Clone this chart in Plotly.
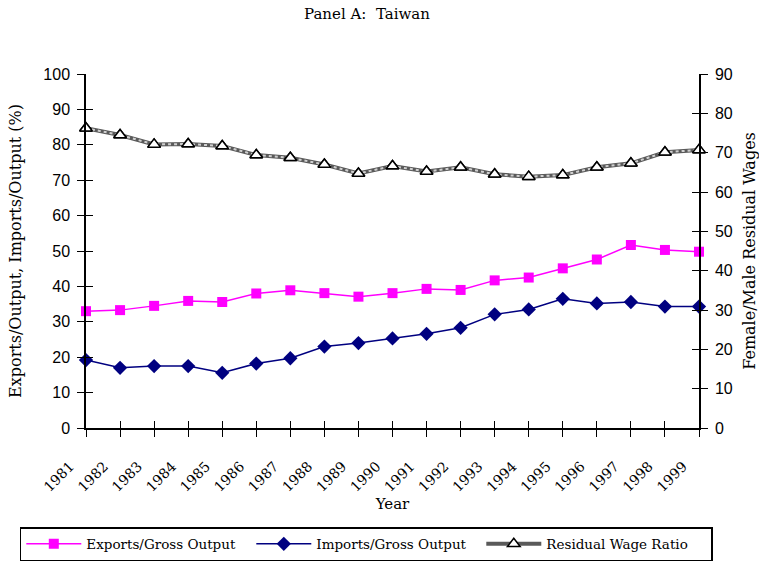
import plotly.graph_objects as go

years = list(range(1981, 2000))
year_labels = [str(y) for y in years]
exports = [33.0, 33.3, 34.5, 35.9, 35.6, 38.0, 38.9, 38.1, 37.1, 38.1,
           39.3, 39.0, 41.7, 42.5, 45.1, 47.6, 51.7, 50.3, 49.8]
imports = [19.2, 17.0, 17.5, 17.5, 15.6, 18.2, 19.7, 23.0, 24.0, 25.3,
           26.6, 28.3, 32.1, 33.5, 36.5, 35.2, 35.6, 34.3, 34.3]
wage_ratio = [76.2, 74.5, 72.1, 72.2, 71.7, 69.4, 68.7, 67.0, 64.7, 66.6,
              65.2, 66.3, 64.5, 63.9, 64.3, 66.3, 67.3, 70.1, 70.7]

SERIF = "DejaVu Serif"
SANS = "Liberation Sans"

fig = go.Figure()
fig.add_trace(go.Scatter(
    x=years, y=exports, name="Exports/Gross Output", mode="lines+markers",
    line=dict(color="#FF00FF", width=1.5),
    marker=dict(symbol="square", size=10, color="#FF00FF"),
    cliponaxis=False))
fig.add_trace(go.Scatter(
    x=years, y=imports, name="Imports/Gross Output", mode="lines+markers",
    line=dict(color="#000080", width=1.5),
    marker=dict(symbol="diamond", size=11, color="#000080"),
    cliponaxis=False))
fig.add_trace(go.Scatter(
    x=years, y=wage_ratio, name="Residual Wage Ratio", mode="lines+markers",
    yaxis="y2", line=dict(color="#5a5a5a", width=4),
    marker=dict(symbol="triangle-up", size=11, color="white",
                line=dict(color="black", width=1.5)),
    cliponaxis=False))
fig.add_trace(go.Scatter(
    x=years, y=wage_ratio, mode="lines", yaxis="y2", showlegend=False,
    line=dict(color="#d0d0d0", width=2, dash="dot"), hoverinfo="skip",
    cliponaxis=False))
fig.add_trace(go.Scatter(
    x=years, y=wage_ratio, mode="markers", yaxis="y2", showlegend=False,
    marker=dict(symbol="triangle-up", size=11, color="white",
                line=dict(color="black", width=1.5)),
    hoverinfo="skip", cliponaxis=False))
# empty traces on helper axes that draw the inner half of crossing ticks
fig.add_trace(go.Scatter(x=[None], y=[None], xaxis="x2", yaxis="y3",
                         showlegend=False, hoverinfo="skip"))
fig.add_trace(go.Scatter(x=[None], y=[None], xaxis="x2", yaxis="y4",
                         showlegend=False, hoverinfo="skip"))

common = dict(showgrid=False, zeroline=False, automargin=False)

fig.update_layout(
    width=759, height=565,
    # right margin comes from the right axis' automargin push
    margin=dict(l=86, r=0, t=74, b=137),
    paper_bgcolor="white", plot_bgcolor="white",
    font=dict(family=SERIF, size=14, color="black"),
    title=dict(text="Panel A:  Taiwan", x=0.4835, xanchor="center",
               y=0.975, yanchor="middle", font=dict(family=SERIF, size=15)),
    xaxis=dict(
        range=[1981, 1999], tickvals=years, ticktext=year_labels,
        tickangle=-45, ticks="outside", ticklen=7, tickcolor="black",
        showline=True, linecolor="black", linewidth=1.5,
        tickfont=dict(family=SERIF, size=14), ticklabelstandoff=16,
        ticklabelshift=-16,
        title=dict(text="Year", font=dict(size=15), standoff=2), **common),
    xaxis2=dict(
        range=[1981, 1999], tickvals=years, overlaying="x", anchor="y",
        side="bottom", ticks="inside", ticklen=7, tickcolor="black",
        showticklabels=False, showline=False, **common),
    yaxis=dict(
        range=[0, 100], dtick=10, ticks="outside", ticklen=7,
        tickcolor="black", showline=True, linecolor="black", linewidth=1.5,
        tickfont=dict(family=SANS, size=16), ticklabelstandoff=4,
        title=dict(text="Exports/Output, Imports/Output (%)",
                   font=dict(size=16), standoff=18), **common),
    yaxis2=dict(
        range=[0, 90], dtick=10, overlaying="y", side="right",
        ticks="outside", ticklen=7, tickcolor="black", showline=True,
        linecolor="black", linewidth=1.5,
        tickfont=dict(family=SANS, size=16), ticklabelstandoff=4,
        title=dict(text="Female/Male Residual Wages", font=dict(size=16),
                   standoff=15),
        showgrid=False, zeroline=False, automargin=True),
    yaxis3=dict(
        range=[0, 100], dtick=10, overlaying="y", anchor="x", side="left",
        ticks="inside", ticklen=7, tickcolor="black",
        showticklabels=False, showline=False, **common),
    yaxis4=dict(
        range=[0, 90], dtick=10, overlaying="y", anchor="x", side="right",
        ticks="inside", ticklen=7, tickcolor="black",
        showticklabels=False, showline=False, **common),
    legend=dict(
        orientation="h", x=-0.108, xanchor="left",
        y=-0.2797, yanchor="top",
        bordercolor="black", borderwidth=1.5, bgcolor="white",
        font=dict(family=SERIF, size=13.5), itemwidth=55, entrywidth=160),
    showlegend=True,
)

fig.write_html("out.html", config={"displayModeBar": False},
               post_script="document.body.style.margin='0';")
